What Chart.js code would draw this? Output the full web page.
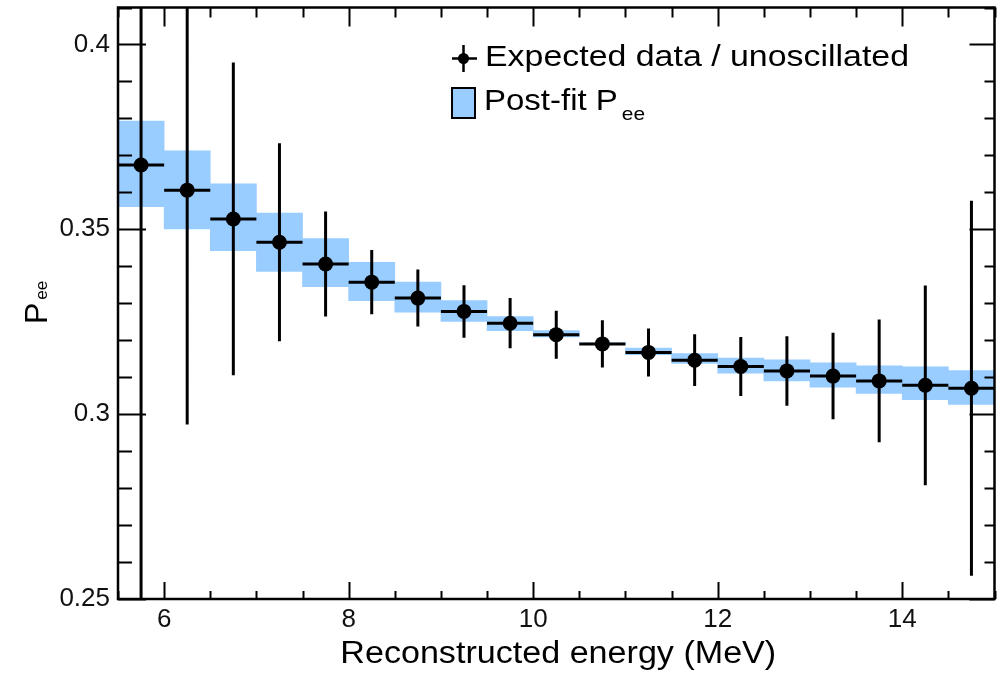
<!DOCTYPE html>
<html>
<head>
<meta charset="utf-8">
<title>Pee vs reconstructed energy</title>
<script src="https://cdn.jsdelivr.net/npm/chart.js@4.4.1/dist/chart.umd.min.js"></script>
<style>
  html, body { margin: 0; padding: 0; background: #fff; }
  #wrap { width: 1002px; height: 674px; }
</style>
</head>
<body>
<div id="wrap"><canvas id="peeChart"></canvas></div>
<script>
// bins of 0.5 MeV
const binCenters = [5.75, 6.25, 6.75, 7.25, 7.75, 8.25, 8.75, 9.25, 9.75, 10.25,
                    10.75, 11.25, 11.75, 12.25, 12.75, 13.25, 13.75, 14.25, 14.75];
const binHalfWidth = 0.25;

// expected data / unoscillated (points + errors)
const expected = [0.3674, 0.3606, 0.3528, 0.3465, 0.3406, 0.3357, 0.3314, 0.3278, 0.3246, 0.3215,
                  0.3190, 0.3167, 0.3146, 0.3129, 0.3117, 0.3103, 0.3090, 0.3078, 0.3070];
const expectedErr = [0.130, 0.0634, 0.0423, 0.0268, 0.0142, 0.0087, 0.0077, 0.0071, 0.0068, 0.0065,
                     0.0064, 0.0065, 0.0070, 0.0080, 0.0094, 0.0117, 0.0166, 0.0270, 0.0507];

// post-fit Pee band
const postFitLow  = [0.3561, 0.3501, 0.3442, 0.3386, 0.3345, 0.3307, 0.3276, 0.3251, 0.3226, 0.3209,
                     0.3188, 0.3161, 0.3137, 0.3111, 0.3090, 0.3073, 0.3056, 0.3039, 0.3026];
const postFitHigh = [0.3793, 0.3712, 0.3623, 0.3544, 0.3475, 0.3411, 0.3357, 0.3307, 0.3264, 0.3226,
                     0.3193, 0.3179, 0.3164, 0.3152, 0.3147, 0.3139, 0.3131, 0.3128, 0.3118];

const xMajorTicks = [6, 8, 10, 12, 14];
const yMajorTicks = [0.25, 0.3, 0.35, 0.4];

const FONT = "'Liberation Sans', Arial, Helvetica, sans-serif";
const BAND_COLOR = "#99ccff";

function isXMajor(v) { return xMajorTicks.some(t => Math.abs(t - v) < 1e-6); }
function isYMajor(v) { return yMajorTicks.some(t => Math.abs(t - v) < 1e-6); }

// text stretched horizontally like the original figure
function wideText(ctx, text, x, y, size, sx, align) {
  ctx.save();
  ctx.font = size + "px " + FONT;
  ctx.textAlign = align || "left";
  ctx.textBaseline = "alphabetic";
  ctx.translate(x, y);
  ctx.scale(sx, 1);
  ctx.fillText(text, 0, 0);
  const w = ctx.measureText(text).width * sx;
  ctx.restore();
  return w;
}

// error bars of the expected points
const errorBars = {
  id: "errorBars",
  afterDatasetsDraw(chart) {
    const { ctx, chartArea: a, scales: { x, y } } = chart;
    ctx.save();
    ctx.beginPath();
    ctx.rect(a.left, a.top, a.right - a.left, a.bottom - a.top);
    ctx.clip();
    ctx.strokeStyle = "#000";
    ctx.lineWidth = 3;
    ctx.beginPath();
    binCenters.forEach((c, i) => {
      const px = x.getPixelForValue(c);
      const py = y.getPixelForValue(expected[i]);
      ctx.moveTo(x.getPixelForValue(c - binHalfWidth), py);
      ctx.lineTo(x.getPixelForValue(c + binHalfWidth), py);
      ctx.moveTo(px, y.getPixelForValue(expected[i] + expectedErr[i]));
      ctx.lineTo(px, y.getPixelForValue(expected[i] - expectedErr[i]));
    });
    ctx.stroke();
    ctx.restore();
  }
};

// ROOT style frame, inward ticks, titles and legend
const frameAndText = {
  id: "frameAndText",
  afterDraw(chart) {
    const { ctx, chartArea: a, scales: { x, y } } = chart;
    ctx.save();
    ctx.strokeStyle = "#000";
    ctx.lineWidth = 2;
    ctx.beginPath();
    x.ticks.forEach(t => {
      const px = Math.round(x.getPixelForValue(t.value)) + 0.5;
      const major = isXMajor(t.value);
      ctx.moveTo(px, a.bottom); ctx.lineTo(px, a.bottom - (major ? 17 : 8));
      ctx.moveTo(px, a.top); ctx.lineTo(px, a.top + (major ? 19 : 10));
    });
    y.ticks.forEach(t => {
      const py = Math.round(y.getPixelForValue(t.value)) + 0.5;
      const major = isYMajor(t.value);
      ctx.moveTo(a.left, py); ctx.lineTo(a.left + (major ? 28 : 14), py);
      ctx.moveTo(a.right, py); ctx.lineTo(a.right - (major ? 25 : 10), py);
    });
    ctx.stroke();

    ctx.lineWidth = 2.5;
    ctx.strokeRect(a.left, a.top, a.right - a.left, a.bottom - a.top);

    ctx.fillStyle = "#000";
    // x title
    wideText(ctx, "Reconstructed energy (MeV)", (a.left + a.right) / 2 + 2, 663, 31, 1.1, "center");

    // y title, rotated
    ctx.save();
    ctx.translate(47, 324);
    ctx.rotate(-Math.PI / 2);
    ctx.font = "32px " + FONT;
    ctx.textBaseline = "alphabetic";
    ctx.fillText("P", 0, 0);
    const pw = ctx.measureText("P").width;
    ctx.font = "17px " + FONT;
    ctx.fillText("ee", pw + 3, 0);
    ctx.restore();

    // legend
    ctx.beginPath();
    ctx.lineWidth = 2.5;
    ctx.moveTo(463.5, 45); ctx.lineTo(463.5, 72);
    ctx.moveTo(452, 58.5); ctx.lineTo(477, 58.5);
    ctx.stroke();
    ctx.beginPath();
    ctx.arc(463.5, 58.5, 5.5, 0, Math.PI * 2);
    ctx.fill();
    wideText(ctx, "Expected data / unoscillated", 485, 66, 30, 1.13);

    ctx.fillStyle = BAND_COLOR;
    ctx.fillRect(452, 88, 23, 30);
    ctx.lineWidth = 2;
    ctx.strokeRect(452, 88, 23, 30);
    ctx.fillStyle = "#000";
    const w = wideText(ctx, "Post-fit P", 484, 110, 30, 1.1);
    wideText(ctx, "ee", 484 + w + 4, 120, 19, 1.1);
    ctx.restore();
  }
};

new Chart(document.getElementById("peeChart"), {
  type: "scatter",
  data: {
    datasets: [
      {
        type: "bar",
        label: "Post-fit Pee",
        data: binCenters.map((c, i) => ({ x: c, y: [postFitLow[i], postFitHigh[i]] })),
        backgroundColor: BAND_COLOR,
        borderWidth: 0,
        borderSkipped: false,
        barPercentage: 1,
        categoryPercentage: 1,
        grouped: false,
        order: 2
      },
      {
        type: "scatter",
        label: "Expected data / unoscillated",
        data: binCenters.map((c, i) => ({ x: c, y: expected[i] })),
        backgroundColor: "#000",
        borderWidth: 0,
        pointRadius: 7.5,
        pointHoverRadius: 7.5,
        showLine: false,
        order: 1
      }
    ]
  },
  options: {
    responsive: true,
    maintainAspectRatio: false,
    animation: false,
    layout: { padding: { top: 6, right: 7, left: 0, bottom: 0 } },
    plugins: {
      legend: { display: false },
      tooltip: { enabled: false }
    },
    scales: {
      x: {
        type: "linear",
        min: 5.5,
        max: 15,
        offset: false,
        grid: { display: false, drawTicks: false },
        border: { display: false },
        ticks: {
          stepSize: 0.5,
          autoSkip: false,
          maxRotation: 0,
          padding: 5,
          color: "#111",
          font: { family: FONT, size: 26 },
          callback: v => isXMajor(v) ? String(v) : ""
        },
        afterFit(s) { s.height = 75; s.paddingLeft = 0; s.paddingRight = 0; }
      },
      y: {
        type: "linear",
        min: 0.25,
        max: 0.41,
        grid: { display: false, drawTicks: false },
        border: { display: false },
        ticks: {
          stepSize: 0.01,
          autoSkip: false,
          padding: 8,
          color: "#111",
          font: { family: FONT, size: 26 },
          callback: v => isYMajor(v) ? String(parseFloat(v.toFixed(2))) : ""
        },
        afterFit(s) { s.width = 118; s.paddingTop = 0; s.paddingBottom = 0; }
      }
    }
  },
  plugins: [errorBars, frameAndText]
});
</script>
</body>
</html>
